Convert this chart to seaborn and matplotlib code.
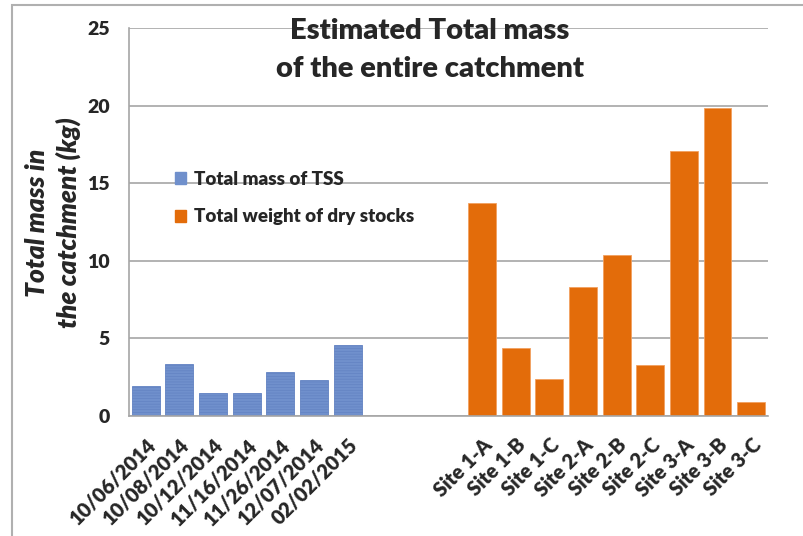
import matplotlib
matplotlib.use("Agg")
import matplotlib.pyplot as plt
import matplotlib.patches as mpatches
import numpy as np
import pandas as pd
import seaborn as sns

# Sampling dates (TSS) and dry-stock sites
dates = ["10/06/2014", "10/08/2014", "10/12/2014", "11/16/2014",
         "11/26/2014", "12/07/2014", "02/02/2015"]
tss_mass = [1.92, 3.35, 1.46, 1.46, 2.82, 2.28, 4.54]

sites = ["Site 1-A", "Site 1-B", "Site 1-C", "Site 2-A", "Site 2-B",
         "Site 2-C", "Site 3-A", "Site 3-B", "Site 3-C"]
dry_stock = [13.72, 4.36, 2.36, 8.31, 10.38, 3.26, 17.07, 19.85, 0.91]

series_names = ["Total mass of TSS", "Total weight of dry stocks"]
gap_slots = [" ", "  ", "   "]

title_text = "Estimated Total mass\nof the entire catchment"
ylabel_text = "Total mass in\nthe catchment (kg)"
yticks = [0, 5, 10, 15, 20, 25]

blue = "#7090CC"
orange = "#E36C0A"

df = pd.DataFrame({
    "category": dates + sites,
    "mass": tss_mass + dry_stock,
    "series": [series_names[0]] * len(dates) + [series_names[1]] * len(sites),
})
order = dates + gap_slots + sites

sns.set_style("white")
plt.rcParams["font.family"] = ["Lato", "DejaVu Sans"]
plt.rcParams["hatch.linewidth"] = 0.5

fig = plt.figure(figsize=(8.04, 5.36), dpi=100)
ax = fig.add_axes([0.1604, 0.2244, 0.7948, 0.7234])

sns.barplot(data=df, x="category", y="mass", hue="series", order=order,
            hue_order=series_names, palette=[blue, orange], width=0.83,
            dodge=False, saturation=1, ax=ax, legend=False)

# textured fill for the TSS bars, thin light outline on the others
blue_rgb = matplotlib.colors.to_rgb(blue)
for patch in ax.patches:
    fc = patch.get_facecolor()
    patch.set_linewidth(0.6)
    if abs(fc[2] - blue_rgb[2]) < 0.02:
        patch.set_hatch("------")
        patch.set_edgecolor("#6282C2")
    else:
        patch.set_edgecolor("#F2A060")

ax.set_xlim(-0.5, len(order) - 0.5)
ax.set_ylim(0, 25)
ax.set_yticks(yticks)
ax.set_yticklabels([str(v) for v in yticks], fontsize=14, fontweight="heavy")
ax.yaxis.grid(True, color="#A6A6A6", linewidth=1.2)
ax.set_axisbelow(True)

# category labels at bar centres, tick marks at category boundaries
labels = dates + ["", "", ""] + sites
ax.set_xticks(range(len(order)))
ax.set_xticklabels(labels, rotation=45, ha="right", va="top",
                   rotation_mode="anchor", fontsize=14.5, fontweight="heavy")
ax.tick_params(axis="x", which="major", length=0, pad=14)
ax.set_xticks(np.arange(-0.5, len(order)), minor=True)
ax.tick_params(axis="x", which="minor", length=5, color="#A6A6A6", width=1.2)
ax.tick_params(axis="y", which="major", length=6, color="#A6A6A6", width=1.2,
               pad=8)

for side in ["top", "right"]:
    ax.spines[side].set_visible(False)
for side in ["left", "bottom"]:
    ax.spines[side].set_color("#A6A6A6")
    ax.spines[side].set_linewidth(1.2)

ax.set_xlabel("")
ax.set_ylabel("")
fig.text(0.066, 0.584, ylabel_text, rotation=90, ha="center", va="center",
         fontsize=19, fontweight="heavy", fontstyle="italic",
         linespacing=1.35)

fig.text(0.535, 0.907, title_text, ha="center", va="center", fontsize=21,
         fontweight="heavy", linespacing=1.6)

handles = [mpatches.Patch(facecolor=blue, edgecolor=blue),
           mpatches.Patch(facecolor=orange, edgecolor=orange)]
ax.legend(handles, series_names, loc="upper left",
          bbox_to_anchor=(0.045, 0.675), frameon=False,
          prop={"weight": "heavy", "size": 13.5}, handlelength=0.6,
          handleheight=0.6, handletextpad=0.45, labelspacing=1.1)

# outer chart border
fig.add_artist(mpatches.Rectangle((12 / 804, -0.1), 1.2, 1 - 5 / 536 + 0.1,
                                  transform=fig.transFigure, fill=False,
                                  edgecolor="#B0B0B0", linewidth=1.5))

fig.savefig("out.png", dpi=100)
